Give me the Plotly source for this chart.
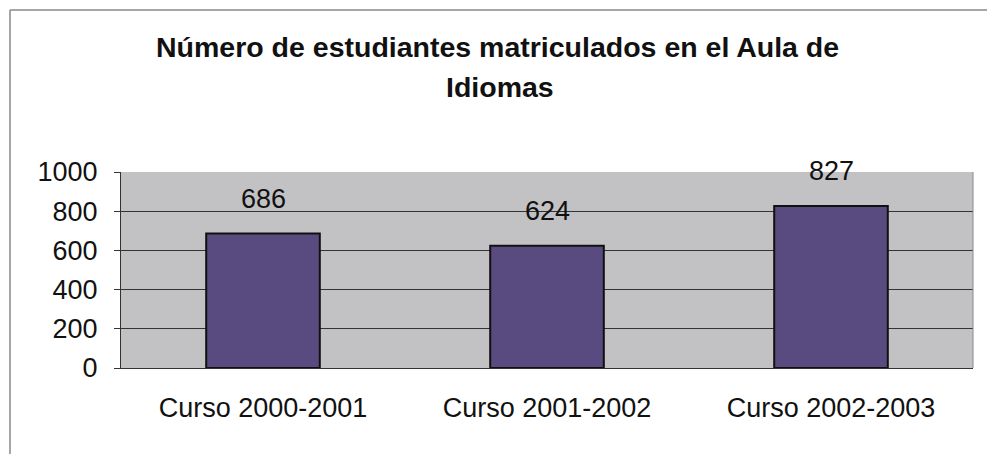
import plotly.graph_objects as go

categories = ["Curso 2000-2001", "Curso 2001-2002", "Curso 2002-2003"]
values = [686, 624, 827]
y_ticks = [0, 200, 400, 600, 800, 1000]

W, H = 987, 454
L, T = 121, 172
R = W - 973
B = H - 368
pw = W - L - R
ph = H - T - B

def px_x(x):
    return (x - L) / pw

def px_y(y):
    return (H - B - y) / ph

FONT = "Liberation Sans, Arial"

fig = go.Figure()
fig.add_trace(go.Bar(
    x=categories, y=values,
    marker=dict(color="#594a80", line=dict(color="#111111", width=2)),
    width=0.4, hoverinfo="skip",
))

for c, v in zip(categories, values):
    fig.add_annotation(x=c, y=v, text=str(v), showarrow=False, yshift=35,
                       font=dict(family=FONT, size=27, color="#111111"))

font_title = dict(family=FONT, size=28.5, color="#111111")
fig.add_annotation(xref="paper", yref="paper", x=px_x(497), y=px_y(47),
                   text="<b>Número de estudiantes matriculados en el Aula de</b>",
                   showarrow=False, font=font_title, xanchor="center", yanchor="middle")
fig.add_annotation(xref="paper", yref="paper", x=px_x(500), y=px_y(87),
                   text="<b>Idiomas</b>", showarrow=False, font=font_title,
                   xanchor="center", yanchor="middle")

# outer chart frame: only top and left edges are visible
frame = dict(color="#888888", width=1.5)
fig.add_shape(type="line", xref="paper", yref="paper",
              x0=px_x(10), y0=px_y(10), x1=px_x(1010), y1=px_y(10), line=frame)
fig.add_shape(type="line", xref="paper", yref="paper",
              x0=px_x(10), y0=px_y(10), x1=px_x(10), y1=px_y(480), line=frame)

fig.update_layout(
    width=W, height=H,
    margin=dict(l=L, r=R, t=T, b=B, pad=0),
    paper_bgcolor="white",
    plot_bgcolor="#c2c2c4",
    showlegend=False,
    bargap=0.6,
    font=dict(family=FONT, size=27, color="#111111"),
    xaxis=dict(showgrid=False, showline=True, linecolor="#333333", linewidth=1,
               mirror=False, ticks="", tickfont=dict(size=27), ticklabelstandoff=16),
    yaxis=dict(range=[0, 1000], tickvals=y_ticks, showgrid=True, gridcolor="#333333",
               gridwidth=1, showline=True, linecolor="#333333", linewidth=1,
               ticks="outside", ticklen=6, tickcolor="#333333",
               tickfont=dict(size=27), zeroline=False, ticklabelstandoff=11),
)
fig.add_shape(type="line", xref="paper", yref="paper", x0=1, x1=1, y0=0, y1=1,
              line=dict(color="#888888", width=1))

fig.write_html(
    "out.html",
    config={"displayModeBar": False},
    post_script="document.body.style.margin='0';document.body.style.overflow='hidden';",
)
